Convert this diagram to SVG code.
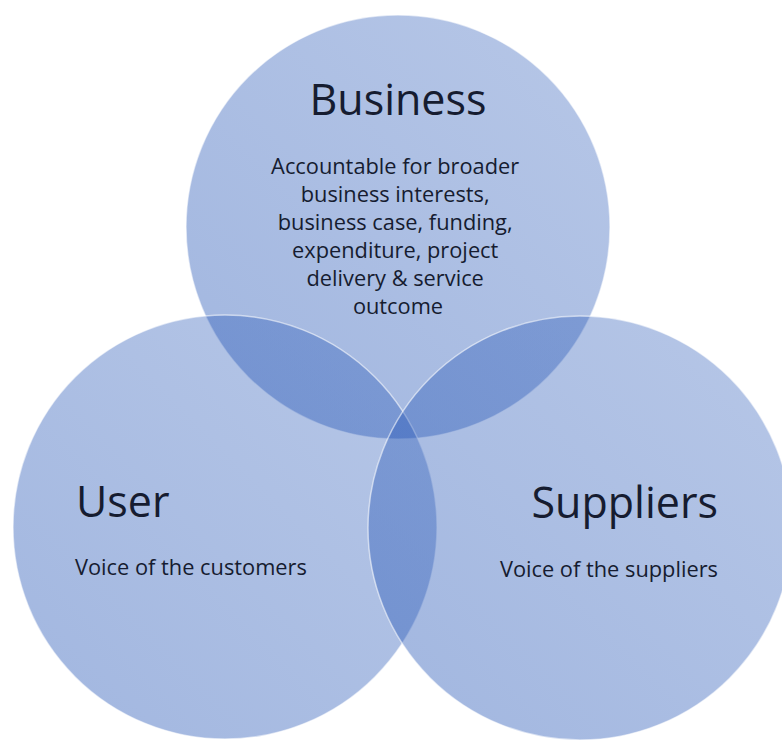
<svg xmlns="http://www.w3.org/2000/svg" width="782" height="740" viewBox="0 0 782 740">
  <style>
    .circ { stroke: #ffffff; stroke-opacity: 0.55; stroke-width: 1.5; }
    .title { font-family: "Open Sans", "Liberation Sans", sans-serif; font-size: 43px; fill: #161c30; }
    .body { font-family: "Open Sans", "Liberation Sans", sans-serif; font-size: 21.8px; fill: #161c30; }
  </style>
  <defs>
    <linearGradient id="g" x1="1" y1="0" x2="0" y2="1">
      <stop offset="0" stop-color="#2455b6" stop-opacity="0.33"/>
      <stop offset="1" stop-color="#2455b6" stop-opacity="0.43"/>
    </linearGradient>
  </defs>
  <rect width="782" height="740" fill="#ffffff"/>
  <g id="business">
    <circle class="circ" cx="398" cy="227" r="212" fill="url(#g)"/>
    <text class="title" x="398" y="115" text-anchor="middle">Business</text>
    <text class="body" text-anchor="middle">
      <tspan x="398" y="174">Accountable for broader</tspan>
      <tspan x="398" y="202">business interests,</tspan>
      <tspan x="398" y="230">business case, funding,</tspan>
      <tspan x="398" y="258">expenditure, project</tspan>
      <tspan x="398" y="286">delivery &amp; service</tspan>
      <tspan x="398" y="314">outcome</tspan>
    </text>
  </g>
  <g id="user">
    <circle class="circ" cx="225" cy="527" r="212" fill="url(#g)"/>
    <text class="title" x="76" y="517">User</text>
    <text class="body" x="75" y="575">Voice of the customers</text>
  </g>
  <g id="suppliers">
    <circle class="circ" cx="580" cy="528" r="212" fill="url(#g)"/>
    <text class="title" x="718" y="518" text-anchor="end">Suppliers</text>
    <text class="body" x="718" y="577" text-anchor="end">Voice of the suppliers</text>
  </g>
  <g id="connectors"/>
</svg>
